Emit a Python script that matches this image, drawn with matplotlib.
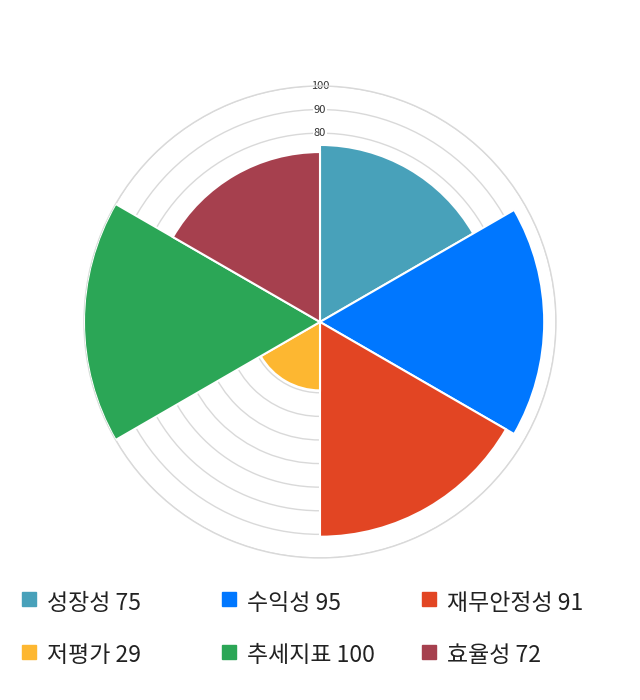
import numpy as np
import matplotlib
matplotlib.use("Agg")
import matplotlib.pyplot as plt
from matplotlib.patches import Rectangle

plt.rcParams['font.family'] = ['Noto Sans CJK KR', 'DejaVu Sans']

categories = ['성장성', '수익성', '재무안정성', '저평가', '추세지표', '효율성']
values = [75, 95, 91, 29, 100, 72]
colors = ['#48A1BA', '#0077FF', '#E24523', '#FDB731', '#2BA656', '#A6404E']
ticks = [10, 20, 30, 40, 50, 60, 70, 80, 90, 100]

fig = plt.figure(figsize=(6.4, 7.0), dpi=100)
ax = fig.add_axes([0.13125, 0.2029, 0.7375, 0.6743], projection='polar')
ax.set_theta_zero_location('N')
ax.set_theta_direction(-1)

n = len(values)
width = 2 * np.pi / n
thetas = np.arange(n) * width
ax.bar(thetas, values, width=width, align='edge', color=colors,
       edgecolor='white', linewidth=1.5, zorder=3)

ax.set_ylim(0, 100)
ax.set_yticks(ticks)
ax.set_yticklabels([])
ax.set_xticks([])
ax.yaxis.grid(True, color='#d9d9d9', linewidth=1)
ax.xaxis.grid(False)
ax.spines['polar'].set_color('#d9d9d9')
ax.spines['polar'].set_linewidth(1)
ax.set_axisbelow(True)

for t in ticks:
    ax.text(0, t, str(t), ha='center', va='center', fontsize=8,
            color='#333333', zorder=1,
            bbox=dict(boxstyle='square,pad=0.1', fc='white', ec='none'))

# legend
col_x = [22, 222, 422]
row_y = [600, 653]
for i, (c, v, col) in enumerate(zip(categories, values, colors)):
    r, k = divmod(i, 3)
    x = col_x[k]
    y = row_y[r]
    fig.patches.append(Rectangle((x / 640, 1 - (y + 6) / 700), 14 / 640, 14 / 700,
                                 transform=fig.transFigure, color=col))
    fig.text((x + 25) / 640, 1 - (y + 3) / 700, f'{c} {v}', fontsize=16.5,
             va='center', ha='left', color='#222222')

fig.savefig('out.png', dpi=100)
